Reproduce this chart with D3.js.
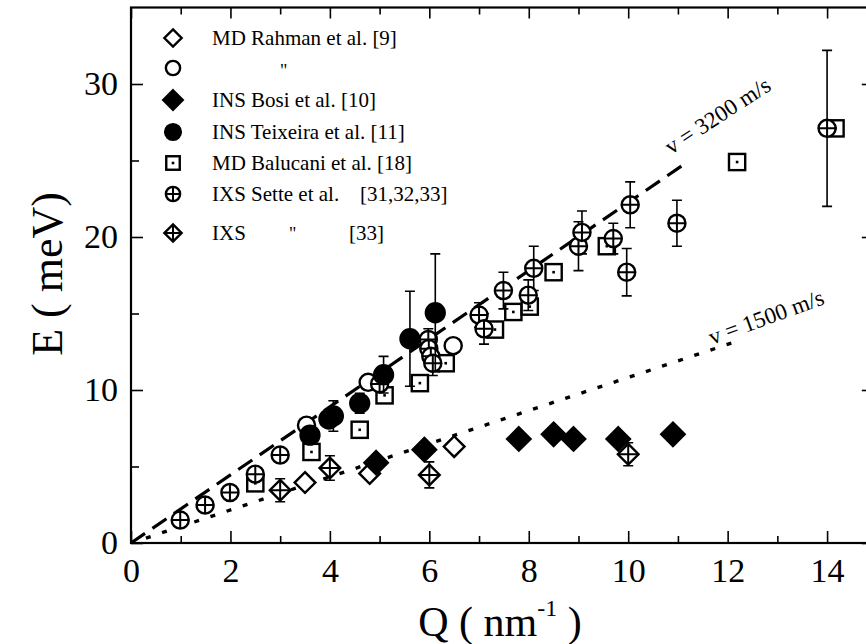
<!DOCTYPE html>
<html><head><meta charset="utf-8">
<script src="https://cdn.jsdelivr.net/npm/d3@7"></script>
<style>body{margin:0;background:#fff}svg{display:block}text{font-family:"Liberation Serif","Times New Roman",serif;fill:#000}</style>
</head><body><svg id="c" width="866" height="644"></svg>
<script>
// ---- data ----
const xMajorTicks = [0,2,4,6,8,10,12,14];
const yMajorTicks = [0,10,20,30];
const rahmanDiaQ = [3.5, 4.8, 6.5];
const rahmanDiaE = [3.95, 4.55, 6.3];
const rahmanCircQ = [3.53, 4.77, 6.48];
const rahmanCircE = [7.7, 10.5, 12.9];
const bosiQ = [4.93, 5.9, 7.8, 8.5, 8.9, 9.8, 10.9];
const bosiE = [5.25, 6.1, 6.8, 7.1, 6.8, 6.8, 7.1];
const teixQ = [3.6, 3.98, 4.07, 4.6, 5.08, 5.61, 6.12];
const teixE = [7.05, 8.1, 8.3, 9.13, 11.0, 13.35, 15.05];
const teixErr = [0, 0, 1.0, 0.65, 1.2, 3.1, 3.85];
const balQ = [2.5, 3.63, 4.6, 5.1, 5.81, 6.33, 7.32, 7.69, 8.02, 8.5, 9.57, 12.19, 14.17];
const balE = [3.9, 5.95, 7.4, 9.65, 10.45, 11.75, 13.95, 15.1, 15.45, 17.7, 19.4, 24.9, 27.1];
const setteQ = [0.99, 1.49, 1.99, 2.5, 3.0, 5.0, 5.98, 5.99, 6.03, 6.07, 7.0, 7.1, 7.49, 7.99, 8.1, 9.0, 9.07, 9.7, 9.97, 10.04, 10.98, 14.0];
const setteE = [1.5, 2.48, 3.3, 4.5, 5.75, 10.4, 13.3, 12.7, 12.2, 11.75, 14.9, 14.0, 16.5, 16.2, 17.95, 19.4, 20.3, 19.9, 17.7, 22.1, 20.9, 27.1];
const setteErr = [0, 0, 0, 0, 0, 0.3, 0.7, 0.5, 0.5, 0.8, 0.8, 1.0, 1.2, 1.0, 1.45, 1.6, 1.4, 1.0, 1.55, 1.5, 1.5, 5.1];
const ixs33Q = [3.0, 4.0, 6.0, 10.0];
const ixs33E = [3.45, 4.9, 4.45, 5.8];
const ixs33Err = [0.75, 0.8, 0.85, 0.75];
const line3200Q = [0, 11.1];
const line3200E = [0, 24.7];
const line1500Q = [0.3, 12.2];
const line1500E = [0.32, 13.2];
const legendLabels = ["MD Rahman et al. [9]", "", "INS Bosi et al. [10]", "INS Teixeira et al. [11]", "MD Balucani et al. [18]", "IXS Sette et al.", "IXS"];

// ---- scales ----
const svg = d3.select("#c");
const x = d3.scaleLinear().domain([0,15]).range([131, 131 + 15*49.72]);
const y = d3.scaleLinear().domain([0,35]).range([543, 543 - 35*15.3]);
const zip = (a,b,c) => a.map((v,i)=>({q:v,e:b[i],err:c?c[i]:0}));

// ---- frame & axes ----
const ax = svg.append("g");
function axis(gen, tr){ const g = ax.append("g").attr("transform", tr).call(gen); g.select(".domain").remove(); g.selectAll("line").attr("stroke","#000").attr("stroke-width",1.6); return g; }
const oddX = d3.range(1,15,2), minorY = [5,15,25];
const bx = axis(d3.axisBottom(x).tickValues(xMajorTicks).tickSize(-12).tickPadding(15).tickFormat(d3.format("d")), `translate(0,${y(0)})`);
axis(d3.axisBottom(x).tickValues(oddX).tickSize(-7).tickFormat(""), `translate(0,${y(0)})`);
axis(d3.axisTop(x).tickValues(xMajorTicks).tickSize(-11).tickFormat(""), `translate(0,${y(35)})`);
axis(d3.axisTop(x).tickValues(oddX).tickSize(-7).tickFormat(""), `translate(0,${y(35)})`);
const ly = axis(d3.axisLeft(y).tickValues(yMajorTicks).tickSize(-12).tickPadding(13).tickFormat(d3.format("d")), `translate(${x(0)},0)`);
axis(d3.axisLeft(y).tickValues(minorY).tickSize(-8).tickFormat(""), `translate(${x(0)},0)`);
axis(d3.axisRight(y).tickValues(yMajorTicks).tickSize(-15).tickFormat(""), `translate(${x(15)},0)`);
axis(d3.axisRight(y).tickValues(minorY).tickSize(-8).tickFormat(""), `translate(${x(15)},0)`);
[bx, ly].forEach(g => g.selectAll("text").attr("font-size", 34).attr("font-family","Liberation Serif").attr("fill","#000"));
ax.append("rect").attr("x", x(0)).attr("y", y(35)).attr("width", x(15)-x(0)).attr("height", y(0)-y(35))
  .attr("fill","none").attr("stroke","#000").attr("stroke-width",2.2);

// ---- axis titles ----
const xt = svg.append("text").attr("x", 500).attr("y", 636).attr("text-anchor","middle").attr("font-size", 42);
xt.append("tspan").text("Q  ( nm");
xt.append("tspan").text("-1").attr("font-size", 24).attr("dy", -20);
xt.append("tspan").text(" )").attr("dy", 20);
svg.append("text").attr("transform", "translate(62,274) rotate(-90)").attr("text-anchor","middle").attr("font-size", 44).text("E ( meV)");

// ---- reference lines ----
const lg = d3.line().x(d=>x(d.q)).y(d=>y(d.e));
svg.append("path").attr("d", lg(zip(line3200Q,line3200E))).attr("fill","none").attr("stroke","#000").attr("stroke-width",3.2).attr("stroke-dasharray","17,9");
svg.append("path").attr("d", lg(zip(line1500Q,line1500E))).attr("fill","none").attr("stroke","#000").attr("stroke-width",3.4).attr("stroke-dasharray","5,12");
svg.append("text").attr("transform", "translate(671,155) rotate(-33)").attr("font-size", 23).text("v = 3200 m/s");
svg.append("text").attr("transform", "translate(712,345) rotate(-20)").attr("font-size", 23).text("v = 1500 m/s");

// ---- markers ----
function drawMarker(g, type, cx, cy, s) {
  const sw = 2.4;
  if (type === "diaOpen" || type === "diaFill" || type === "diaCross") {
    const r = type === "diaFill" ? s*1.3 : s*1.15;
    g.append("path").attr("d", `M${cx},${cy-r}L${cx+r},${cy}L${cx},${cy+r}L${cx-r},${cy}Z`)
      .attr("fill", type==="diaFill" ? "#000" : "#fff").attr("stroke","#000").attr("stroke-width", sw);
    if (type === "diaCross") g.append("path").attr("d", `M${cx-r},${cy}H${cx+r}M${cx},${cy-r}V${cy+r}`).attr("stroke","#000").attr("stroke-width",2);
  } else if (type === "circOpen" || type === "circFill" || type === "circCross") {
    const r = type === "circFill" ? s*1.05 : s*0.95;
    g.append("circle").attr("cx",cx).attr("cy",cy).attr("r",r).attr("fill", type==="circFill"?"#000":"#fff").attr("stroke","#000").attr("stroke-width",sw);
    if (type === "circCross") g.append("path").attr("d", `M${cx-r},${cy}H${cx+r}M${cx},${cy-r}V${cy+r}`).attr("stroke","#000").attr("stroke-width",2);
  } else if (type === "square") {
    const h = s*0.9;
    g.append("rect").attr("x",cx-h).attr("y",cy-h).attr("width",2*h).attr("height",2*h).attr("fill","#fff").attr("stroke","#000").attr("stroke-width",sw);
    g.append("rect").attr("x",cx-1.3).attr("y",cy-1.3).attr("width",2.6).attr("height",2.6).attr("fill","#000");
  }
}
function series(data, type, s) {
  const g = svg.append("g");
  data.filter(d=>d.err>0).forEach(d => {
    const y1 = y(d.e + d.err), y2 = y(d.e - d.err), cx = x(d.q);
    g.append("path").attr("d", `M${cx},${y1}V${y2}M${cx-5},${y1}H${cx+5}M${cx-5},${y2}H${cx+5}`).attr("stroke","#000").attr("stroke-width",1.6).attr("fill","none");
  });
  data.forEach(d => drawMarker(g, type, x(d.q), y(d.e), s));
}
series(zip(balQ, balE), "square", 9);
series(zip(rahmanDiaQ, rahmanDiaE), "diaOpen", 9);
series(zip(ixs33Q, ixs33E, ixs33Err), "diaCross", 9);
series(zip(rahmanCircQ, rahmanCircE), "circOpen", 9);
series(zip(setteQ, setteE, setteErr), "circCross", 9);
series(zip(teixQ, teixE, teixErr), "circFill", 9);
series(zip(bosiQ, bosiE), "diaFill", 9);

// ---- legend ----
const legTypes = ["diaOpen","circOpen","diaFill","circFill","square","circCross","diaCross"];
const legY = [38, 68, 100, 132, 163, 194, 233];
const lgG = svg.append("g");
legTypes.forEach((t,i) => {
  drawMarker(lgG, t, 173, legY[i], 7.5);
  lgG.append("text").attr("x", 212).attr("y", legY[i] + 7).attr("font-size", 21).text(legendLabels[i]);
});
lgG.append("text").attr("x", 280).attr("y", 77).attr("font-size", 18).text("\"");
lgG.append("text").attr("x", 360).attr("y", 201).attr("font-size", 21).text("[31,32,33]");
lgG.append("text").attr("x", 289).attr("y", 240).attr("font-size", 18).text("\"");
lgG.append("text").attr("x", 349).attr("y", 240).attr("font-size", 21).text("[33]");
</script></body></html>
